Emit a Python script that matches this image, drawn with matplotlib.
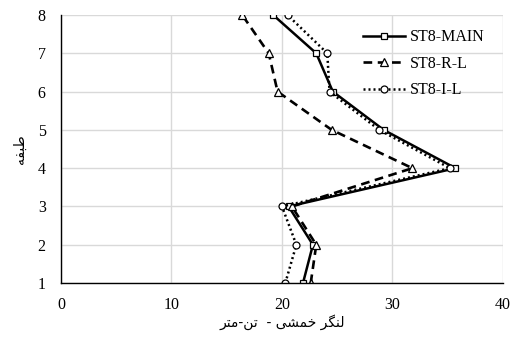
import matplotlib
matplotlib.use("Agg")
import matplotlib.pyplot as plt

floors = [1, 2, 3, 4, 5, 6, 7, 8]
st8_main = [21.9, 22.8, 20.6, 35.7, 29.2, 24.6, 23.1, 19.2]
st8_rl = [22.6, 23.1, 20.9, 31.8, 24.5, 19.6, 18.8, 16.4]
st8_il = [20.3, 21.3, 20.0, 35.2, 28.8, 24.3, 24.1, 20.5]
series_names = ["ST8-MAIN", "ST8-R-L", "ST8-I-L"]

# Persian labels written as presentation forms in visual order (no shaping in mpl)
xlabel = ("\uFEAE\uFE98\uFEE3-\uFEE6\uFE97  - "
          "\uFBFD\uFEB8\uFEE4\uFEA7 \uFEAE\uFB95\uFEE8\uFEDF")
ylabel = "\uFEEA\uFED4\uFE92\uFEC3"

plt.rcParams['font.family'] = ['Liberation Serif', 'DejaVu Sans']

fig = plt.figure(figsize=(5.15, 3.37), dpi=100)
ax = fig.add_axes([0.1184, 0.160, 0.8583, 0.7955])

lw = 1.8
ax.plot(st8_main, floors, color='black', lw=lw, ls='-', marker='s',
        ms=4.6, mfc='white', mec='black', mew=0.9, label=series_names[0])
ax.plot(st8_rl, floors, color='black', lw=lw + 0.1, ls=(0, (3.3, 2.1)), marker='^',
        ms=5.5, mfc='white', mec='black', mew=0.9, label=series_names[1])
ax.plot(st8_il, floors, color='black', lw=lw, ls=(0, (0.8, 1.2)), marker='o',
        ms=5, mfc='white', mec='black', mew=0.9, label=series_names[2])

ax.set_xlim(0, 40)
ax.set_ylim(1, 8)
ax.set_xticks([0, 10, 20, 30, 40])
ax.set_yticks(floors)
ax.grid(True, color='#d9d9d9', lw=1)
ax.set_axisbelow(True)
for s in ['top', 'right']:
    ax.spines[s].set_visible(False)
ax.spines['left'].set_linewidth(1)
ax.spines['bottom'].set_linewidth(1)
ax.tick_params(axis='y', length=0, labelsize=11.5, pad=11)
ax.tick_params(axis='x', length=0, labelsize=11.5, pad=10)

ax.set_xlabel(xlabel, family=['DejaVu Sans'], fontsize=10, labelpad=1)
ax.set_ylabel(ylabel, family=['DejaVu Sans'], fontsize=10, labelpad=8)

ax.legend(loc='upper right', bbox_to_anchor=(0.99, 1.0), frameon=False,
          fontsize=11.5, handlelength=2.6, handletextpad=0.3, labelspacing=0.65)

fig.savefig("out.png", dpi=100)
